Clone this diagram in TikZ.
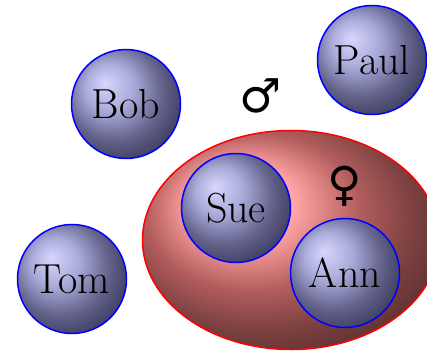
\documentclass[tikz,border=0pt]{standalone}
\usepackage{fontspec}
\newfontfamily\symfont{DejaVu Sans}
\usetikzlibrary{shadings,shapes.geometric}
\pgfdeclareradialshading{personball}{\pgfqpoint{-10bp}{10bp}}{%
  rgb(0bp)=(.84,.84,1);
  rgb(11bp)=(.67,.67,.85);
  rgb(15bp)=(.57,.57,.75);
  rgb(22bp)=(.39,.39,.55);
  rgb(30bp)=(.26,.26,.40);
  rgb(50bp)=(.12,.12,.20)}
\tikzset{
  person/.style={circle,draw=blue,line width=1.5pt,minimum size=109pt,inner sep=0pt,shade,shading=personball,font=\fontsize{42}{44}\selectfont,text=black},
  group/.style={ellipse,draw=red,line width=1.5pt,minimum width=297pt,minimum height=219pt,inner sep=0pt,ball color=red!48},
  sym/.style={font=\symfont\fontsize{47}{49}\selectfont,text=black,inner sep=0pt}
}
\begin{document}
\begin{tikzpicture}[x=1pt,y=-1pt]
\useasboundingbox (0,0) rectangle (427,350);
\clip (0,0) rectangle (427,350);
\node[group] (women) at (291,240) {};
\node[person] (bob) at (126,104) {Bob};
\node[person] (paul) at (372,60) {Paul};
\node[person] (tom) at (72,279) {Tom};
\node[person] (sue) at (236,208) {Sue};
\node[person] (ann) at (345,273) {Ann};
\node[sym] (mars) at (261,96) {♂};
\node[sym] (venus) at (345,186) {♀};
\end{tikzpicture}
\end{document}
